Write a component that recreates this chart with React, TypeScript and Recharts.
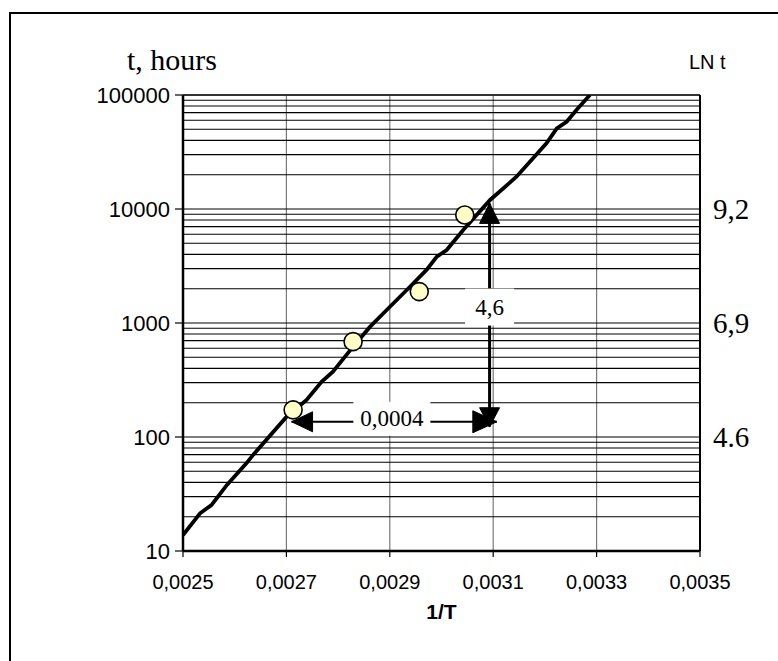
import React from 'react';
import {
  ComposedChart,
  Line,
  Scatter,
  XAxis,
  YAxis,
  CartesianGrid,
  ReferenceLine,
  ReferenceDot,
  Label,
} from 'recharts';

// ---- data ----
const xTicks = [0.0025, 0.0027, 0.0029, 0.0031, 0.0033, 0.0035];
const decadeTicks = [10, 100, 1000, 10000, 100000];
const gridTicks = [
  10, 20, 30, 40, 50, 60, 70, 80, 90,
  100, 200, 300, 400, 500, 600, 700, 800, 900,
  1000, 2000, 3000, 4000, 5000, 6000, 7000, 8000, 9000,
  10000, 20000, 30000, 40000, 50000, 60000, 70000, 80000, 90000,
  100000,
];
const lnTickValues = [100, 1000, 10000];
const lnTickLabels = ['4.6', '6,9', '9,2'];

const curveX = [
  0.0025, 0.002533, 0.002555, 0.002585, 0.002623, 0.002636, 0.0027, 0.002739,
  0.002768, 0.00279, 0.002829, 0.002862, 0.002894, 0.002939, 0.002971, 0.002991,
  0.00301, 0.003042, 0.003094, 0.003145, 0.003203, 0.003223, 0.003242, 0.003261,
  0.003287,
];
const curveT = [
  13.8, 21.4, 25.3, 38, 59, 70, 150, 211,
  305, 374, 620, 929, 1300, 2080, 2920, 3820,
  4370, 6540, 12000, 19200, 37700, 51000, 58300, 73800,
  100000,
];

const pointX = [0.002713, 0.002829, 0.002957, 0.003045];
const pointT = [173, 686, 1885, 8850];

// annotation values
const hArrowY = 136;
const hArrowFrom = 0.00271;
const hArrowTo = 0.003107;
const hLabelX = 0.002904;
const hLabel = '0,0004';

const vArrowX = 0.003093;
const vArrowFrom = 11200;
const vArrowTo = 123;
const vLabelY = 1380;
const vLabel = '4,6';

const curveData = curveX.map((x, i) => ({ x, t: curveT[i] }));
const pointData = pointX.map((x, i) => ({ x, t: pointT[i] }));

const SANS = '"Liberation Sans", Arial, Helvetica, sans-serif';
const SERIF = '"Liberation Serif", "Times New Roman", Times, serif';

const fmtX = (v: number) => v.toFixed(4).replace('.', ',');

const LeftTick = (props: any) => {
  const { x, y, payload } = props;
  if (!decadeTicks.includes(payload.value)) return <g />;
  return (
    <g>
      <line x1={x + 5} x2={x + 13} y1={y} y2={y} stroke="#000" strokeWidth={1.2} />
      <text
        x={x}
        y={y}
        textAnchor="end"
        dominantBaseline="central"
        fontFamily={SANS}
        fontSize={22}
        fill="#000"
      >
        {payload.value}
      </text>
    </g>
  );
};

const RightTick = (props: any) => {
  const { x, y, payload } = props;
  const idx = lnTickValues.indexOf(payload.value);
  return (
    <text
      x={x}
      y={y}
      textAnchor="start"
      dominantBaseline="central"
      fontFamily={SERIF}
      fontSize={29}
      fill="#000"
    >
      {idx >= 0 ? lnTickLabels[idx] : ''}
    </text>
  );
};

const BottomTick = (props: any) => {
  const { x, y, payload } = props;
  return (
    <text
      x={x}
      y={y}
      textAnchor="middle"
      dominantBaseline="hanging"
      fontFamily={SANS}
      fontSize={20}
      fill="#000"
    >
      {fmtX(payload.value)}
    </text>
  );
};

const Dot = (props: any) => {
  const { cx, cy } = props;
  return <circle cx={cx} cy={cy} r={9} fill="#FFFFC6" stroke="#000" strokeWidth={1.6} />;
};

const head = (dir: 'left' | 'right' | 'up' | 'down') => (props: any) => {
  const { cx, cy } = props;
  let pts = '';
  if (dir === 'left') pts = `${cx},${cy} ${cx + 21},${cy - 10} ${cx + 21},${cy + 10}`;
  if (dir === 'right') pts = `${cx},${cy} ${cx - 24},${cy - 11} ${cx - 24},${cy + 11}`;
  if (dir === 'up') pts = `${cx},${cy} ${cx - 10},${cy + 20} ${cx + 10},${cy + 20}`;
  if (dir === 'down') pts = `${cx},${cy} ${cx - 10},${cy - 19} ${cx + 10},${cy - 19}`;
  return <polygon points={pts} fill="#000" stroke="#000" strokeWidth={1} />;
};

const labelBox = (text: string, w: number, h: number, dy: number) => (props: any) => {
  const { cx, cy } = props;
  return (
    <g>
      <rect x={cx - w / 2} y={cy - h / 2 + dy} width={w} height={h} fill="#fff" />
      <text
        x={cx}
        y={cy + dy}
        textAnchor="middle"
        dominantBaseline="central"
        fontFamily={SERIF}
        fontSize={23}
        fill="#000"
      >
        {text}
      </text>
    </g>
  );
};

const LeftTitle = (props: any) => {
  const vb = props.viewBox || {};
  return (
    <text x={vb.x + 14} y={vb.y - 25} fontFamily={SERIF} fontSize={30} fill="#000">
      t, hours
    </text>
  );
};

const RightTitle = (props: any) => {
  const vb = props.viewBox || {};
  return (
    <text x={vb.x - 11} y={vb.y - 26} fontFamily={SANS} fontSize={20} fill="#000">
      LN t
    </text>
  );
};

const BottomTitle = (props: any) => {
  const vb = props.viewBox || {};
  return (
    <text
      x={vb.x + vb.width / 2}
      y={vb.y + 60}
      textAnchor="middle"
      dominantBaseline="central"
      fontFamily={SANS}
      fontSize={21}
      fontWeight="bold"
      fill="#000"
    >
      1/T
    </text>
  );
};

export default function App() {
  return (
    <div
      style={{
        position: 'absolute',
        left: 0,
        top: 0,
        width: 778,
        height: 661,
        overflow: 'hidden',
        background: '#fff',
      }}
    >
      <div
        style={{
          position: 'absolute',
          left: 9,
          top: 12,
          width: 900,
          height: 900,
          border: '2px solid #000',
          boxSizing: 'border-box',
        }}
      />
      <div style={{ position: 'absolute', left: 0, top: 0 }}>
        <ComposedChart
          width={778}
          height={661}
          margin={{ top: 95, right: 18, bottom: 40, left: 113 }}
        >
          <CartesianGrid
            horizontal={false}
            stroke="#7a7a7a"
            strokeWidth={1.2}
            yAxisId="left"
          />
          <CartesianGrid
            vertical={false}
            stroke="#000"
            strokeWidth={1.1}
            yAxisId="left"
          />
          <XAxis
            type="number"
            dataKey="x"
            domain={[0.0025, 0.0035]}
            ticks={xTicks}
            allowDataOverflow
            height={70}
            axisLine={{ stroke: '#000', strokeWidth: 2.5 }}
            tickLine={{ stroke: '#000', strokeWidth: 1.2 }}
            tickSize={6}
            tickMargin={18}
            tick={<BottomTick />}
          >
            <Label content={<BottomTitle />} />
          </XAxis>
          <YAxis
            yAxisId="left"
            type="number"
            scale="log"
            domain={[10, 100000]}
            ticks={gridTicks}
            interval={0}
            allowDataOverflow
            width={70}
            axisLine={{ stroke: '#000', strokeWidth: 2.5 }}
            tickLine={false}
            tickSize={0}
            tickMargin={13}
            tick={<LeftTick />}
          >
            <Label content={<LeftTitle />} />
          </YAxis>
          <YAxis
            yAxisId="right"
            orientation="right"
            type="number"
            scale="log"
            domain={[10, 100000]}
            ticks={lnTickValues}
            interval={0}
            allowDataOverflow
            width={60}
            axisLine={false}
            tickLine={false}
            tickSize={0}
            tickMargin={13}
            tick={<RightTick />}
          >
            <Label content={<RightTitle />} />
          </YAxis>

          <ReferenceLine yAxisId="left" y={100000} stroke="#333" strokeWidth={2} />
          <ReferenceLine yAxisId="left" x={0.0035} stroke="#000" strokeWidth={2} />

          <Line
            yAxisId="right"
            data={curveData}
            dataKey="t"
            stroke="none"
            dot={false}
            activeDot={false}
            isAnimationActive={false}
          />
          <Line
            yAxisId="left"
            data={curveData}
            dataKey="t"
            stroke="#000"
            strokeWidth={3.8}
            dot={false}
            activeDot={false}
            type="linear"
            isAnimationActive={false}
          />

          <ReferenceLine
            yAxisId="left"
            segment={[
              { x: hArrowFrom, y: hArrowY },
              { x: hArrowTo, y: hArrowY },
            ]}
            stroke="#000"
            strokeWidth={2}
          />
          <ReferenceLine
            yAxisId="left"
            segment={[
              { x: vArrowX, y: vArrowFrom },
              { x: vArrowX, y: vArrowTo },
            ]}
            stroke="#000"
            strokeWidth={3}
          />
          <ReferenceDot yAxisId="left" x={hArrowFrom} y={hArrowY} shape={head('left')} />
          <ReferenceDot yAxisId="left" x={hArrowTo} y={hArrowY} shape={head('right')} />
          <ReferenceDot yAxisId="left" x={vArrowX} y={vArrowFrom} shape={head('up')} />
          <ReferenceDot yAxisId="left" x={vArrowX} y={vArrowTo} shape={head('down')} />
          <ReferenceDot
            yAxisId="left"
            x={hLabelX}
            y={hArrowY}
            shape={labelBox(hLabel, 77, 34, -3)}
          />
          <ReferenceDot
            yAxisId="left"
            x={vArrowX}
            y={vLabelY}
            shape={labelBox(vLabel, 49, 37, 0)}
          />

          <Scatter
            yAxisId="left"
            data={pointData}
            dataKey="t"
            shape={<Dot />}
            isAnimationActive={false}
          />
        </ComposedChart>
      </div>
    </div>
  );
}
